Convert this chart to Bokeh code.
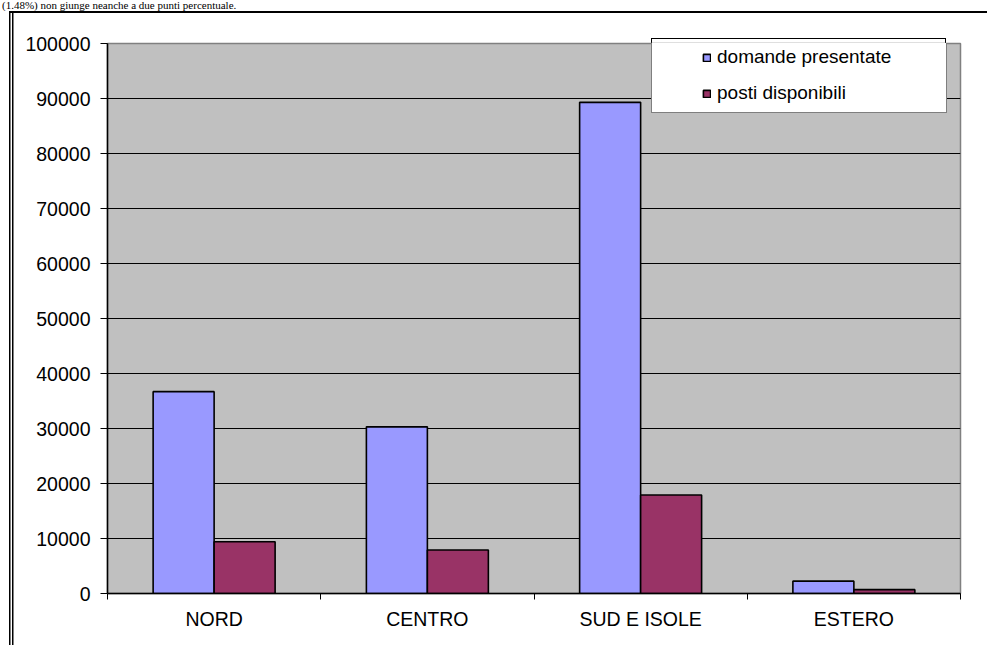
import numpy as np
from bokeh.plotting import figure
from bokeh.layouts import column
from bokeh.models import (ColumnDataSource, FixedTicker, Range1d, Legend, LegendItem,
                          PrintfTickFormatter, Div)
from bokeh.embed import file_html
from bokeh.resources import INLINE

categories = ["NORD", "CENTRO", "SUD E ISOLE", "ESTERO"]
domande_presentate = [36700, 30300, 89300, 2250]
posti_disponibili = [9400, 7900, 17900, 700]
series_names = ["domande presentate", "posti disponibili"]
y_ticks = list(range(0, 100001, 10000))
header_text = "(1.48%) non giunge neanche a due punti percentuale."

FONT = "Liberation Sans"
W = 987
HEAD = 11                 # height of the text strip above the chart box
H = 645 - HEAD
L, R, T, B = 107, 27, 43 - HEAD, 52
FB = H - B  # frame bottom (canvas px)

pos = np.arange(len(categories)) + 0.5
bar_w = 0.286
src = ColumnDataSource(dict(
    x1=pos - bar_w / 2, x2=pos + bar_w / 2,
    d=domande_presentate, p=posti_disponibili))

p = figure(width=W, height=H, output_backend="svg", toolbar_location=None,
           x_range=Range1d(0, len(categories)), y_range=Range1d(0, 100000),
           min_border_left=L, min_border_right=R, min_border_top=T, min_border_bottom=B)
p.margin = 0
p.background_fill_color = "#C0C0C0"
p.border_fill_alpha = 0
p.outline_line_color = "#808080"
p.outline_line_width = 1.5

# page decorations behind the transparent canvas border area:
# box top line, double left line, and the top strip of the legend box
g = "linear-gradient(#000,#000)"
lt = 38 - HEAD - 0.5
p.styles = {
    "background": ", ".join([
        f"{g} 9px 0px / 978px 2px no-repeat",
        f"{g} 9px 0px / 1.5px {H}px no-repeat",
        f"{g} 11.5px 0px / 1.5px {H}px no-repeat",
        f"{g} 650.5px {lt}px / 295px 1px no-repeat",
        f"{g} 650.5px {lt}px / 1px 7px no-repeat",
        f"{g} 944.5px {lt}px / 1px 7px no-repeat",
        f"linear-gradient(#fff,#fff) 650.5px {lt}px / 295px 7px no-repeat",
        "#fff",
    ])
}

r1 = p.vbar(x="x1", top="d", width=bar_w, source=src, fill_color="#9999FF",
            line_color="black", line_width=1.6)
r2 = p.vbar(x="x2", top="p", width=bar_w, source=src, fill_color="#993366",
            line_color="black", line_width=1.6)
ghost = p.scatter(x=[], y=[], fill_alpha=0, line_alpha=0)

p.xgrid.visible = False
p.ygrid.grid_line_color = "black"
p.ygrid.grid_line_width = 1
p.ygrid.ticker = FixedTicker(ticks=y_ticks)

xa = p.xaxis[0]
xa.ticker = FixedTicker(ticks=list(pos), minor_ticks=list(range(len(categories) + 1)))
xa.major_label_overrides = {float(v): c for v, c in zip(pos, categories)}
xa.major_tick_out = 0
xa.major_tick_in = 0
xa.minor_tick_out = 6
xa.minor_tick_in = 0
xa.minor_tick_line_color = "black"
xa.axis_line_color = "black"
xa.axis_line_width = 1.5
xa.major_label_text_font = FONT
xa.major_label_text_font_size = "19.5px"
xa.major_label_text_color = "black"
xa.major_label_standoff = 8

ya = p.yaxis[0]
ya.ticker = FixedTicker(ticks=y_ticks)
ya.formatter = PrintfTickFormatter(format="%d")
ya.major_tick_out = 7
ya.major_tick_in = 0
ya.minor_tick_out = 0
ya.minor_tick_in = 0
ya.major_tick_line_color = "black"
ya.axis_line_color = "black"
ya.axis_line_width = 1.5
ya.major_label_text_font = FONT
ya.major_label_text_font_size = "19.5px"
ya.major_label_text_color = "black"
ya.major_label_standoff = 10

# legend box (part inside the plot area)
p.add_layout(Legend(items=[LegendItem(label=" ", renderers=[ghost])],
                    location=(651 - L, FB - (38 - HEAD) - 75), padding=0, margin=0,
                    glyph_width=1, glyph_height=1, label_standoff=0,
                    label_width=293, label_height=75,
                    border_line_color="black", border_line_width=1,
                    background_fill_color="white", background_fill_alpha=1,
                    label_text_font_size="1px"))

legend = Legend(items=[LegendItem(label=series_names[0], renderers=[r1]),
                       LegendItem(label=series_names[1], renderers=[r2])],
                location=(702 - L, FB - (46 - HEAD) - 58), padding=0, margin=0, spacing=14,
                glyph_width=9, glyph_height=9, label_height=20, label_standoff=6,
                border_line_color=None, background_fill_alpha=0,
                label_text_font=FONT, label_text_font_size="19px", label_text_color="black")
p.add_layout(legend)

head = Div(text=header_text, width=W, height=HEAD, margin=0,
           styles={"font-family": "Liberation Serif", "font-size": "11px",
                   "line-height": "11px", "white-space": "nowrap", "color": "black",
                   "padding-left": "2px", "overflow": "visible"})

layout = column(head, p, spacing=0, margin=0)
open("out.html", "w").write(file_html(layout, INLINE))
